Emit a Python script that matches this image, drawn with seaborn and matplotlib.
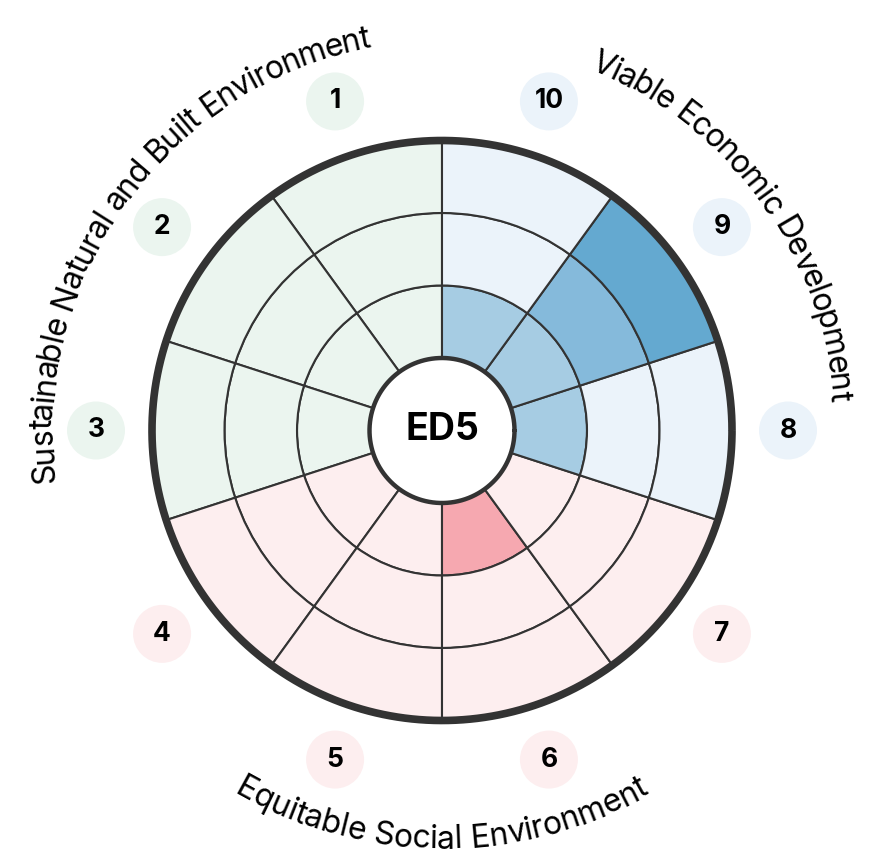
import numpy as np
import matplotlib
matplotlib.use("Agg")
import matplotlib.pyplot as plt
import seaborn as sns

# ---- data ----
sectors = ["1", "2", "3", "4", "5", "6", "7", "8", "9", "10"]
groups = ["green", "green", "green", "pink", "pink", "pink", "pink", "blue", "blue", "blue"]
scores = [0, 0, 0, 0, 0, 1, 0, 1, 3, 1]   # number of filled rings per sector
centre_label = "ED5"
group_titles = {
    "green": "Sustainable Natural and Built Environment",
    "blue": "Viable Economic Development",
    "pink": "Equitable Social Environment",
}

light = {"green": "#EBF5EF", "pink": "#FDEEEF", "blue": "#EBF3FA"}
filled = {
    "green": ["#C5E4D2", "#9FD2B5", "#78BF97"],
    "pink": ["#F6A8B0", "#F08891", "#E86672"],
    "blue": ["#A6CCE3", "#85BADB", "#64A9D0"],
}
edge = "#333333"

sns.set_theme(style="white")
plt.rcParams["font.family"] = ["Inter", "DejaVu Sans"]

W, H = 869, 867
fig = plt.figure(figsize=(W / 100, H / 100), dpi=100, facecolor="white")
PX = 72.5          # pixels per radial unit
RMAX = 6.0
cx, cy = 442, H - 430.5
rad_px = RMAX * PX
ax = fig.add_axes([(cx - rad_px) / W, (cy - rad_px) / H, 2 * rad_px / W, 2 * rad_px / H],
                  projection="polar")
ax.set_ylim(0, RMAX)
ax.set_axis_off()

width = np.deg2rad(36)
theta = np.deg2rad(108 + 36 * np.arange(len(sectors)))

# ring cells
for ring in range(3):
    cols = [filled[g][ring] if s > ring else light[g] for g, s in zip(groups, scores)]
    ax.bar(theta, 1, width=width, bottom=1 + ring, color=cols,
           edgecolor=edge, linewidth=1.5, align="center", zorder=2)

tt = np.linspace(0, 2 * np.pi, 500)
ax.plot(tt, np.full_like(tt, 4), color=edge, lw=5.5, zorder=4, solid_capstyle="butt")
ax.fill_between(tt, 0, 1, color="white", zorder=5)
ax.plot(tt, np.full_like(tt, 1), color=edge, lw=3.2, zorder=6)
ax.text(0, 0, centre_label, ha="center", va="center", fontsize=27,
        fontweight="bold", color="black", zorder=7)

# number badges
r_badge = 346 / PX
ax.scatter(theta, np.full(len(theta), r_badge), s=(58 * 0.72) ** 2,
           c=[light[g] for g in groups], edgecolors="none", zorder=3, clip_on=False)
for t, lab in zip(theta, sectors):
    ax.text(t, r_badge, lab, ha="center", va="center", fontsize=19,
            fontweight="bold", color="black", zorder=4)

# curved group titles
fig.canvas.draw()
renderer = fig.canvas.get_renderer()
prop = matplotlib.font_manager.FontProperties(family=["Inter", "DejaVu Sans"], size=23)


def text_w(s):
    w, h, d = renderer.get_text_width_height_descent(s, prop, ismath=False)
    return w


def arc_text(s, centre_deg, r_base, r_step, clockwise):
    total = text_w(s)
    for i, ch in enumerate(s):
        if ch == " ":
            continue
        p = text_w(s[:i + 1]) - text_w(ch) / 2
        off = np.rad2deg((total / 2 - p) / r_step)
        if clockwise:
            ang = centre_deg + off
            rot = ang - 90
        else:
            ang = centre_deg - off
            rot = ang + 90
        ax.text(np.deg2rad(ang), r_base / PX, ch, fontproperties=prop,
                rotation=rot, rotation_mode="anchor", ha="center", va="baseline",
                color="black", clip_on=False)


arc_text(group_titles["green"], 144, 390, 415, True)
arc_text(group_titles["blue"], 36, 390, 415, True)
arc_text(group_titles["pink"], 270, 418, 420, False)

fig.savefig("out.png", dpi=100, facecolor="white")
